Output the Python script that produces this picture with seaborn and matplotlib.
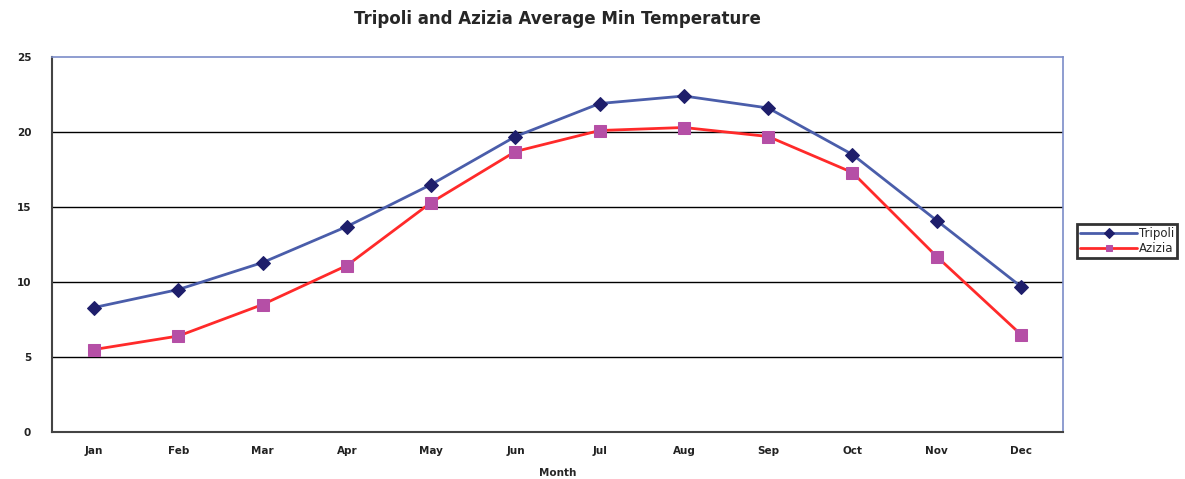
import matplotlib.pyplot as plt
import pandas as pd
import seaborn as sns
import numpy as np

months = ['Jan', 'Feb', 'Mar', 'Apr', 'May', 'Jun', 'Jul', 'Aug', 'Sep', 'Oct', 'Nov', 'Dec']
tripoli = [8.3, 9.5, 11.3, 13.7, 16.5, 19.7, 21.9, 22.4, 21.6, 18.5, 14.1, 9.7]
azizia = [5.5, 6.4, 8.5, 11.1, 15.3, 18.7, 20.1, 20.3, 19.7, 17.3, 11.7, 6.5]

df = pd.DataFrame({'Month': months, 'Tripoli': tripoli, 'Azizia': azizia})

sns.set_style('white')
plt.rcParams['font.family'] = ['DejaVu Sans']

fig = plt.figure(figsize=(11.85, 4.79), dpi=100)
axis = fig.add_axes([0.0439, 0.0981, 0.8532, 0.7829])

sns.lineplot(ax=axis, data=df, x='Month', y='Tripoli', color='#4A5DAA', linewidth=2,
             marker='D', markersize=7, markerfacecolor='#1E1E6B', markeredgecolor='#1E1E6B',
             label='Tripoli', sort=False)
sns.lineplot(ax=axis, data=df, x='Month', y='Azizia', color='#FF2A2A', linewidth=2,
             marker='s', markersize=8, markerfacecolor='#B54FA6', markeredgecolor='#B54FA6',
             label='Azizia', sort=False)

axis.set_xlim(-0.5, len(months) - 0.5)
axis.set_ylim(0, 25)
axis.set_yticks([0, 5, 10, 15, 20, 25])
axis.set_xticks(range(len(months)))
axis.set_xticklabels(months)
axis.set_xticks(np.arange(-0.5, len(months), 1), minor=True)
axis.tick_params(axis='x', which='major', length=0, pad=10, labelsize=7.5)
axis.tick_params(axis='x', which='minor', length=4, width=1.2, color='#333333', direction='out')
axis.tick_params(axis='y', length=6, width=1.2, color='#333333', direction='out', labelsize=7.5, pad=9)
for lab in axis.get_xticklabels() + axis.get_yticklabels():
    lab.set_fontweight('bold')
    lab.set_color('#222222')

for v in [5, 10, 15, 20]:
    axis.axhline(v, color='black', linewidth=1, zorder=0)

for side in ['top', 'right']:
    axis.spines[side].set_color('#7B8CC8')
    axis.spines[side].set_linewidth(1.2)
for side in ['left', 'bottom']:
    axis.spines[side].set_color('#444444')
    axis.spines[side].set_linewidth(1.5)

axis.set_title('Tripoli and Azizia Average Min Temperature', fontsize=12, fontweight='bold', pad=24)
axis.set_xlabel('Month', fontsize=7.5, fontweight='bold', labelpad=9)
axis.set_ylabel('')

leg = axis.legend(loc='center left', bbox_to_anchor=(1.014, 0.51), fontsize=8.5, frameon=True,
                  fancybox=False, handlelength=4.8, borderpad=0.25, labelspacing=0.15,
                  handletextpad=0.2, borderaxespad=0)
leg.get_frame().set_edgecolor('black')
leg.get_frame().set_linewidth(2)
for h in leg.legend_handles:
    h.set_markersize(5)

fig.savefig('out.png', dpi=100)
